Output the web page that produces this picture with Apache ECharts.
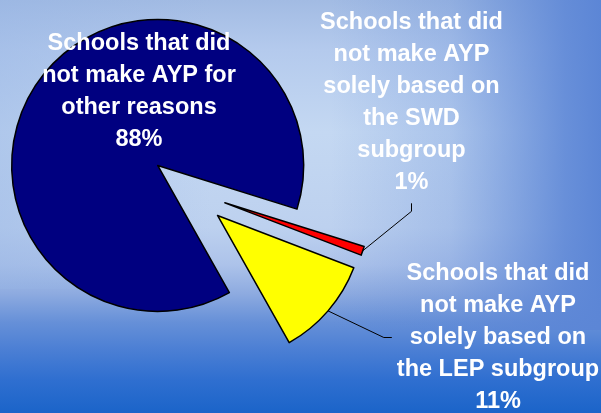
<!DOCTYPE html>
<html>
<head>
<meta charset="utf-8">
<script src="https://cdn.jsdelivr.net/npm/echarts@6/dist/echarts.min.js"></script>
<style>
  html, body { margin: 0; padding: 0; }
  body {
    width: 601px; height: 413px; overflow: hidden;
    background:
      linear-gradient(to right, rgba(150,180,228,0.45) 0%, rgba(150,180,228,0) 35%) 0 0 / 100% 70% no-repeat,
      linear-gradient(to right, rgba(92,134,214,0) 0%, rgba(92,134,214,0) 55%, rgba(92,134,214,0.25) 75%, rgba(92,134,214,0.55) 84%, rgba(92,134,214,0.88) 94%, rgba(92,134,214,1) 100%) 0 0 / 100% 80% no-repeat,
      linear-gradient(to bottom, #a2bbe3 0%, #b4caed 12%, #c4d8f2 32%, #bdd1ef 55%, #adc3ea 64%, #8eabe0 71%, #6690d8 78%, #4a7ed4 85%, #2f6fd0 92%, #1b64c9 100%);
  }
  #chart { width: 601px; height: 413px; }
</style>
</head>
<body>
<div id="chart"></div>
<script>
// ---- data ----
const categories = [
  'Schools that did\nnot make AYP for\nother reasons',
  'Schools that did\nnot make AYP\nsolely based on\nthe SWD\nsubgroup',
  'Schools that did\nnot make AYP\nsolely based on\nthe LEP subgroup'
];
const values = [88, 1, 11];

// ---- styling / layout (kept separate from data) ----
const sliceColors = ['#000080', '#ff0000', '#ffff00'];
const labelPositions = ['inside', 'outside', 'outside'];
const labelAnchors = [[139, 91.5], [411.5, 102.3], [498, 337.5]];
const pieCenter = [188, 190];
const pieRadius = 146;
const startAngle = -60.6;
const explodeOffset = 39;

const chart = echarts.init(document.getElementById('chart'), null, { renderer: 'canvas' });

// Exploded pie: each slice is drawn by its own pie series (same values, same angles),
// shifted outward along the slice's mid-angle.
const total = values.reduce((a, b) => a + b, 0);
let cum = 0;
const series = values.map((v, k) => {
  const midDeg = startAngle - (cum + v / 2) / total * 360;
  cum += v;
  const rad = midDeg * Math.PI / 180;
  const cx = pieCenter[0] + explodeOffset * Math.cos(rad);
  const cy = pieCenter[1] - explodeOffset * Math.sin(rad);
  return {
    type: 'pie',
    center: [cx, cy],
    radius: pieRadius,
    startAngle: startAngle,
    clockwise: true,
    avoidLabelOverlap: false,
    emphasis: { disabled: true },
    silent: true,
    label: {
      color: '#ffffff',
      fontFamily: 'Liberation Sans, Arial, sans-serif',
      fontWeight: 'bold',
      fontSize: 23.5,
      lineHeight: 32,
      align: 'center',
      padding: 5,
      backgroundColor: 'transparent',
      formatter: p => p.name + '\n' + p.value + '%'
    },
    labelLine: {
      length: 10,
      length2: 8,
      smooth: false,
      lineStyle: { color: '#000', width: 1 }
    },
    labelLayout: function (params) {
      const a = labelAnchors[params.dataIndex];
      return { x: a[0], y: a[1], align: 'center', verticalAlign: 'middle' };
    },
    data: categories.map((name, i) => (i === k ? {
      name: name,
      value: values[i],
      itemStyle: { color: sliceColors[i], borderColor: '#000', borderWidth: 1.5 },
      label: { show: true, position: labelPositions[i] },
      labelLine: { show: labelPositions[i] === 'outside' }
    } : {
      name: name,
      value: values[i],
      itemStyle: { color: 'transparent', borderWidth: 0 },
      label: { show: false },
      labelLine: { show: false }
    }))
  };
});

chart.setOption({
  backgroundColor: 'transparent',
  animation: false,
  series: series
});
</script>
</body>
</html>
